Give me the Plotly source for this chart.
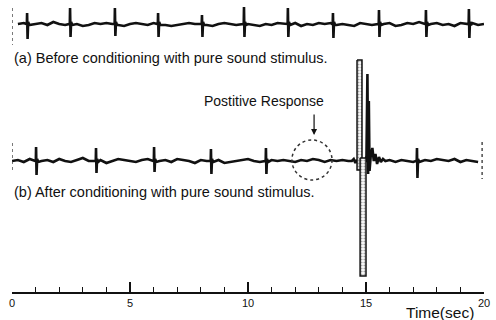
import numpy as np
import plotly.graph_objects as go

# ---------------- data ----------------
tick_vals = [0, 5, 10, 15, 20]
tick_text = ["0", "5", "10", "15", "20"]

# (a) before conditioning: heart-beat times (s) and spike amplitudes
beats_a = [0.64, 2.46, 4.36, 6.19, 8.05, 9.83, 11.69, 13.60, 15.55, 17.54, 19.36]
up_a = [11, 16, 16, 11, 9, 17, 16, 11, 14, 14, 15]
down_a = [15, 13, 12, 13, 13, 13, 13, 14, 13, 13, 14]
noise_a_t0 = 0.25
noise_a_dt = 0.25
noise_a = [0, 1, -1, 0, 1, -1, 2, 0,
           -1, 1, 0, -2, -1, 1, 0, 1,
           0, -1, -2, 0, 1, 0, -1, 1,
           0, -1, -2, -1, 0, 1, 0, 1,
           -1, -2, 0, 1, 0, -1, 1, 0,
           -1, -2, 0, -1, 1, 0, -1, 1,
           -2, 0, -1, 1, 0, 1, -1, 0,
           -1, -2, 1, 0, -1, 1, 0, 1,
           -2, -1, 1, 0, 2, -1, 0, 1,
           -1, 0, -2, 1, 0, 1, -1, 0]

# (b) after conditioning
beats_b = [1.02, 3.56, 6.02, 8.43, 10.76, 17.16]
up_b = [14, 13, 14, 12, 13, 13]
down_b = [14, 12, 11, 13, 13, 17]
noise_b_t0 = 0.0
noise_b_dt = 0.25
noise_b = [0, 1, -1, 2, -2, 0, 1, -1,
           2, 0, -1, 1, 3, 0, -1, 1,
           -2, 0, 2, 1, 0, -1, 1, 2,
           -1, 0, 1, -1, 2, 1, 0, -2,
           1, 0, -1, 1, -2, -1, 0, 1,
           2, 0, -1, 0, 1, 0, 1, 0,
           -1, 1, 0, 2, 1, -1, 1, 0,
           1, 0, 0, 0, 0, 0, 0, 0,
           1, -1, 1, 0, -1, 0, 1, 0,
           2, 1, 0, 2, -1, 1, 0, -1]
# the conditioned response around 15 s
resp_window = (14.35, 15.95)
resp_t = [14.40, 14.48, 14.55, 14.60, 14.62, 14.99, 15.02, 15.06, 15.09, 15.12, 15.15,
          15.20, 15.27, 15.33, 15.40, 15.47, 15.55, 15.63, 15.72, 15.82, 15.92]
resp_v = [0, 2, -2, 1, 0, 0, 5, 87, -13, 60, -10,
          5, 13, 0, 7, -3, 4, -1, 2, 0, 1]
# saturated deflection blocks: (t start, t end, upper value, lower value)
block_up = (14.62, 14.83, 101, -9)
block_down = (14.75, 15.00, 3, -115)

# ---------------- layout constants ----------------
BASE_A = 268
BASE_B = 131
INK = "#111111"

beat_dt = [-0.04, -0.01, 0.0, 0.02, 0.045, 0.09]


def build(beats, ups, downs, t0, dt, noise, base, window=None):
    pts = []
    for i, v in enumerate(noise):
        t = t0 + i * dt
        if any(b - 0.08 <= t <= b + 0.13 for b in beats):
            continue
        if window and window[0] <= t <= window[1]:
            continue
        pts.append((t, v))
    for b, u, d in zip(beats, ups, downs):
        vals = [0, 1, u, -d, 2, -1]
        for o, v in zip(beat_dt, vals):
            pts.append((b + o, v))
    if window:
        pts += list(zip(resp_t, resp_v))
    pts.sort(key=lambda p: p[0])
    xs = [p[0] for p in pts]
    ys = [base + p[1] for p in pts]
    return xs, ys


fig = go.Figure()

xa, ya = build(beats_a, up_a, down_a, noise_a_t0, noise_a_dt, noise_a, BASE_A)
xb, yb = build(beats_b, up_b, down_b, noise_b_t0, noise_b_dt, noise_b, BASE_B, resp_window)

for xs, ys in [(xa, ya), (xb, yb)]:
    fig.add_trace(go.Scatter(x=xs, y=ys, mode="lines",
                             line=dict(color=INK, width=2.6), cliponaxis=False,
                             hoverinfo="skip", showlegend=False))

for (t0, t1, hi, lo) in [block_up, block_down]:
    fig.add_trace(go.Scatter(
        x=[t0, t1, t1, t0, t0], y=[BASE_B + hi, BASE_B + hi, BASE_B + lo, BASE_B + lo, BASE_B + hi],
        mode="lines", fill="toself", fillcolor="white",
        fillpattern=dict(shape=".", fgcolor="#444444", bgcolor="white", size=3, solidity=0.4),
        line=dict(color=INK, width=1.5), cliponaxis=False, hoverinfo="skip", showlegend=False))

# dotted calibration marks at the ends of each record
marks = [(0.0, BASE_A, 16, -21), (20.13, BASE_A, 24, -11),
         (0.0, BASE_B, 18, -11), (19.92, BASE_B, 19, -18)]
for (t, base, hi, lo) in marks:
    fig.add_trace(go.Scatter(x=[t, t], y=[base + hi, base + lo], mode="lines",
                             line=dict(color="#333333", width=1.3, dash="dot"),
                             cliponaxis=False, hoverinfo="skip", showlegend=False))

# dotted circle marking the positive response
fig.add_shape(type="circle", xref="x", yref="y",
              x0=12.71 - 0.85, x1=12.71 + 0.85, y0=BASE_B + 1 - 20, y1=BASE_B + 1 + 20,
              line=dict(color="#333333", width=1.5, dash="dot"))

fig.add_annotation(x=12.8, y=BASE_B + 26, ax=0, ay=-22, text="", showarrow=True,
                   arrowhead=2, arrowsize=1, arrowwidth=1.2, arrowcolor=INK)

fnt = "Liberation Sans, Arial, Helvetica, sans-serif"
fig.add_annotation(x=0, y=234, xanchor="left", yanchor="middle", showarrow=False,
                   text="(a) Before conditioning with pure sound stimulus.",
                   font=dict(family=fnt, size=14.5, color=INK))
fig.add_annotation(x=0, y=100, xanchor="left", yanchor="middle", showarrow=False,
                   text="(b) After conditioning with pure sound stimulus.",
                   font=dict(family=fnt, size=14.5, color=INK))
fig.add_annotation(x=10.66, y=191, xanchor="center", yanchor="middle", showarrow=False,
                   text="Postitive Response", font=dict(family=fnt, size=14, color=INK))
fig.add_annotation(x=18.14, xref="x", y=-20 / 292, yref="paper",
                   xanchor="center", yanchor="middle", showarrow=False,
                   text="Time(sec)", font=dict(family=fnt, size=15.5, color=INK))

fig.update_layout(
    width=496, height=320, margin=dict(l=12, r=12, t=0, b=28),
    paper_bgcolor="white", plot_bgcolor="white",
    xaxis=dict(range=[0, 20], showline=True, linecolor=INK, linewidth=1.5,
               ticks="inside", ticklen=10, tickwidth=1.5, tickcolor=INK,
               tickvals=tick_vals, ticktext=tick_text,
               tickfont=dict(family=fnt, size=11, color=INK),
               minor=dict(ticks="inside", ticklen=5, tickwidth=1.2, tickcolor=INK,
                          dtick=1, tick0=0, showgrid=False),
               showgrid=False, zeroline=False, fixedrange=True),
    yaxis=dict(range=[0, 292], visible=False, fixedrange=True),
)

fig.write_html("out.html")
